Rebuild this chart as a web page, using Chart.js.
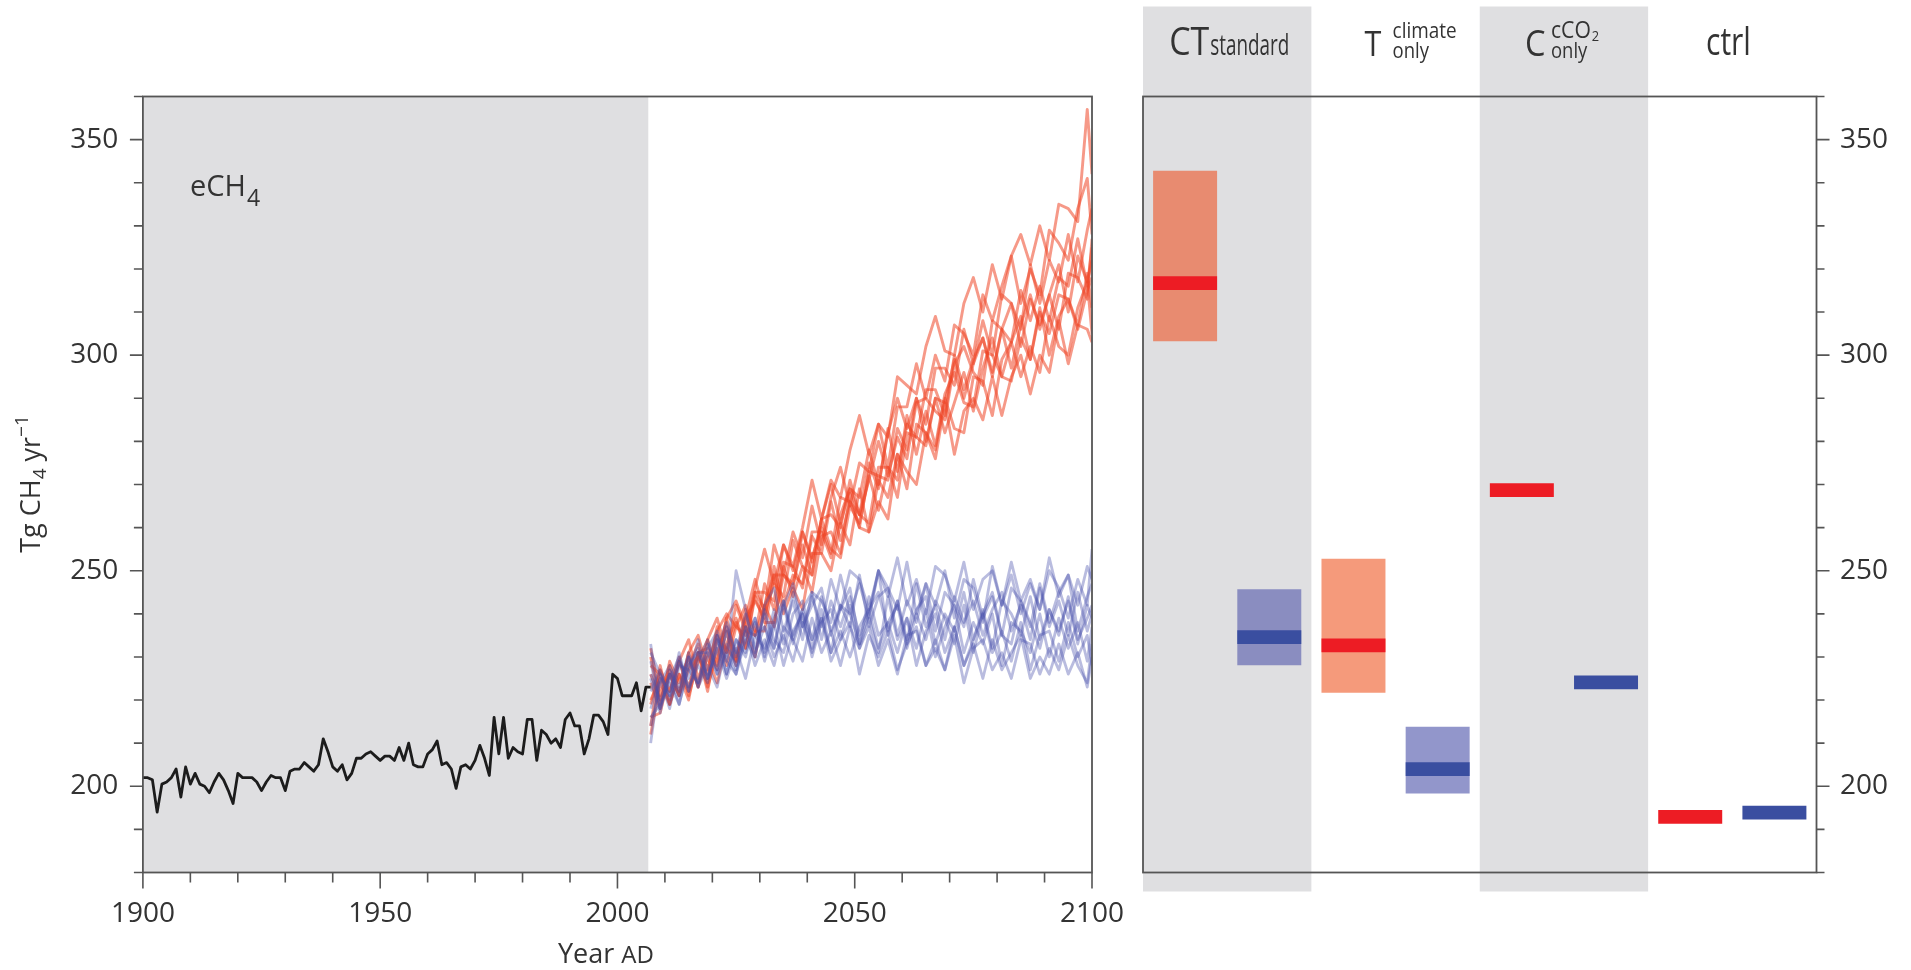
<!DOCTYPE html>
<html>
<head>
<meta charset="utf-8">
<script src="https://cdn.jsdelivr.net/npm/chart.js@4.4.1/dist/chart.umd.min.js"></script>
<style>
  html, body { margin: 0; padding: 0; background: #fff; }
  #wrap { position: relative; width: 1911px; height: 970px; overflow: hidden; }
  #left { position: absolute; left: 0; top: 0; }
  #right { position: absolute; left: 1120px; top: 0; }
</style>
</head>
<body>
<div id="wrap">
  <canvas id="left" width="1143" height="970"></canvas>
  <canvas id="right" width="791" height="970"></canvas>
</div>
<script>
// ---- data: historical eCH4 (Tg CH4 / yr) ----
const histYears = [1900,1901,1902,1903,1904,1905,1906,1907,1908,1909,1910,1911,1912,1913,1914,1915,1916,1917,1918,1919,
  1920,1921,1922,1923,1924,1925,1926,1927,1928,1929,1930,1931,1932,1933,1934,1935,1936,1937,1938,1939,
  1940,1941,1942,1943,1944,1945,1946,1947,1948,1949,1950,1951,1952,1953,1954,1955,1956,1957,1958,1959,
  1960,1961,1962,1963,1964,1965,1966,1967,1968,1969,1970,1971,1972,1973,1974,1975,1976,1977,1978,1979,
  1980,1981,1982,1983,1984,1985,1986,1987,1988,1989,1990,1991,1992,1993,1994,1995,1996,1997,1998,1999,
  2000,2001,2002,2003,2004,2005,2006,2007];
const histValues = [202,202,201.5,194,200.5,201,202,204,197.5,204.5,200.5,203,200.5,200,198.5,201,203,201.5,199,196,
  203,202,202,202,201,199,201,202.5,202,202,199,203.5,204,204,205.5,204.5,203.5,205,211,208,
  204.5,203.5,205,201.5,203,206.5,206.5,207.5,208,207,206,207,207,206,209,206,210,205,204.5,204.5,
  207.5,208.5,210.5,205,205.5,204,199.5,204.5,205,204,206,209.5,206.5,202.5,216,207.5,216,206.5,209,208,
  207.5,215.5,215.5,206,213,212,210,211,209,215.5,217,214,214,207.5,211,216.5,216.5,215,212,226,
  225,221,221,221,224,217.5,223,223];

// ---- data: projections 2007-2100 ----
const projYears = [2007,2009,2011,2013,2015,2017,2019,2021,2023,2025,2027,2029,2031,2033,2035,2037,2039,2041,2043,2045,
  2047,2049,2051,2053,2055,2057,2059,2061,2063,2065,2067,2069,2071,2073,2075,2077,2079,2081,2083,2085,
  2087,2089,2091,2093,2095,2097,2099,2100];

const redMembers = [
  [228,226,219,229,223,231,223,231,237,229,237,230,242,249,240,246,241,254,254,250,261,256,269,259,266,262,277,273,270,282,276,289,277,287,290,285,295,286,295,300,291,300,296,308,298,307,306,303],
  [216,217,226,221,231,223,230,224,233,239,232,244,238,238,249,247,256,249,262,255,253,265,261,272,264,274,267,282,281,279,290,282,289,296,287,297,304,295,294,304,299,311,300,309,313,306,315,318],
  [232,221,228,222,228,233,224,235,231,242,236,235,247,241,252,251,246,258,254,266,257,266,260,273,272,271,283,278,290,280,290,289,299,290,298,304,296,306,297,307,314,306,314,306,319,318,313,327],
  [212,224,219,226,220,231,232,229,239,230,239,248,240,247,244,257,251,249,262,263,260,271,263,271,280,272,281,276,289,290,287,285,298,302,296,293,308,306,303,315,308,316,308,318,316,327,316,325],
  [224,218,229,224,230,223,234,239,231,238,232,245,245,243,256,250,259,252,262,270,261,269,267,278,270,282,290,283,290,284,297,297,293,306,298,308,300,314,312,306,321,312,322,317,328,317,329,334],
  [219,227,222,229,234,225,231,228,239,243,237,245,241,256,249,259,253,265,256,267,274,265,275,273,284,274,288,288,298,290,300,294,307,305,300,314,308,316,323,312,320,314,329,326,322,334,341,328],
  [230,219,226,221,231,235,227,236,240,237,235,246,255,247,256,251,260,271,262,271,267,278,286,277,284,281,295,293,291,302,309,301,300,312,318,310,321,313,323,328,321,330,322,335,334,331,357,342],
  [214,228,219,226,222,231,222,234,232,229,241,235,242,237,251,244,251,245,258,259,254,268,260,259,271,267,277,269,284,282,278,290,283,282,295,294,286,299,303,295,302,296,309,302,300,311,317,305],
  [226,220,227,221,227,230,226,237,228,237,242,236,236,249,249,246,259,253,260,254,267,266,263,275,269,283,273,284,281,292,292,286,300,292,299,304,295,306,312,302,313,307,314,321,310,323,317,322],
  [220,225,222,230,221,229,234,227,236,228,239,243,239,251,242,249,247,259,259,253,263,269,263,261,274,274,271,286,277,287,279,291,296,289,288,301,300,295,303,309,299,310,305,314,313,307,319,311]
];

const blueMembers = [
  [233,218,226,222,230,223,228,223,233,228,236,228,234,228,237,234,229,239,231,236,228,237,232,237,228,234,226,235,236,228,232,227,237,228,233,225,234,227,231,235,225,230,226,233,226,231,223,230],
  [210,226,221,229,222,229,234,226,231,226,234,239,231,238,228,236,240,232,241,231,236,230,237,241,232,238,231,239,228,236,240,231,237,228,234,240,231,236,229,238,227,235,236,229,238,230,235,228],
  [226,220,226,219,228,231,225,235,226,234,231,238,229,237,242,233,240,230,238,241,234,242,232,239,231,244,234,239,232,241,230,237,242,231,238,233,240,228,238,236,231,240,230,239,232,238,229,237],
  [218,225,218,228,227,224,233,227,236,227,234,230,241,234,231,240,243,234,239,231,242,240,233,244,235,238,242,232,240,234,243,239,233,242,231,240,245,235,233,243,238,232,241,235,244,234,239,242],
  [229,218,225,230,223,228,224,234,229,250,241,231,237,232,243,235,241,245,234,243,237,244,235,241,245,236,243,233,247,237,242,234,244,238,243,235,241,245,236,242,234,246,237,243,235,245,236,240],
  [214,224,228,221,230,223,232,236,229,226,237,235,232,241,233,245,237,242,246,235,242,237,249,237,244,246,235,243,238,247,236,245,242,237,248,239,244,235,246,243,237,247,238,245,249,236,244,247],
  [222,227,220,229,225,234,225,232,238,230,237,230,242,246,236,243,234,245,243,238,249,240,247,239,250,246,241,252,240,247,242,250,239,248,246,238,251,242,249,240,247,241,250,246,239,248,242,255],
  [231,226,221,231,222,231,231,226,237,231,240,232,240,232,242,247,237,244,237,248,241,250,248,241,250,244,253,242,248,240,251,249,243,252,241,248,250,242,252,243,248,241,253,244,249,242,251,248],
  [216,219,224,219,228,232,225,232,225,232,225,235,237,230,235,229,238,231,239,229,234,238,226,235,230,236,227,233,237,228,234,227,235,224,232,234,227,231,225,234,233,226,232,227,235,228,224,233],
  [225,217,227,223,231,224,230,235,226,234,230,239,230,239,243,234,241,234,244,236,241,246,233,240,250,235,243,234,241,244,233,240,236,245,234,241,232,243,240,235,244,234,241,236,243,233,242,239]
];

// ---- data: experiment summary (right panel), two slots per experiment ----
const experiments = ['CTstandard', 'Tclimate_only', 'CcCO2_only', 'ctrl'];
const slotLabels = ['CT red', 'CT blue', 'T red', 'T blue', 'C red', 'C blue', 'ctrl red', 'ctrl blue'];
const rangeLow  = [303.2, 228.1, 221.7, 198.3, null, null, null, null];
const rangeHigh = [342.8, 245.7, 252.8, 213.8, null, null, null, null];
const medians   = [316.7, 234.6, 232.7, 204.0, 268.7, 224.1, 192.9, 193.9];

// ---- axes ----
const yMin = 180, yMax = 360;
const yMajor = [200, 250, 300, 350];
const xMin = 1900, xMax = 2100;
const xMajor = [1900, 1950, 2000, 2050, 2100];
const shadeFrom = 1900, shadeTo = 2006.5;

// ---- styles ----
const FONT = "'Open Sans', 'DejaVu Sans', sans-serif";
const GREY = '#dfdfe1';
const AXIS = '#555555';
const TEXT = '#333333';
const rangeColors  = ['#e88b70', '#8a8dc0', '#f59a7b', '#9296cb', null, null, null, null];
const medianColors = ['#ed1c24', '#3a4ea0', '#ed1c24', '#3a4ea0', '#ed1c24', '#3a4ea0', '#ed1c24', '#3a4ea0'];
const MEDIAN_HALF = 1.6;

function txt(ctx, s, x, y, size, sx) {
  ctx.save();
  ctx.font = size + 'px ' + FONT;
  ctx.translate(x, y);
  ctx.scale(sx || 1, 1);
  ctx.fillText(s, 0, 0);
  const w = ctx.measureText(s).width * (sx || 1);
  ctx.restore();
  return w;
}

// tick marks drawn outward from an axis; long ones on the labelled values
function drawTicks(ctx, scale, from, to, step, majors, side, majorLen, minorLen) {
  ctx.save();
  ctx.strokeStyle = AXIS;
  ctx.lineWidth = 1.6;
  ctx.beginPath();
  for (let v = from; v <= to + 1e-6; v += step) {
    const len = majors.includes(v) ? majorLen : minorLen;
    const p = scale.getPixelForValue(v);
    if (side === 'bottom') { ctx.moveTo(p, scale.top); ctx.lineTo(p, scale.top + len); }
    if (side === 'left')   { ctx.moveTo(scale.right, p); ctx.lineTo(scale.right - len, p); }
    if (side === 'right')  { ctx.moveTo(scale.left, p); ctx.lineTo(scale.left + len, p); }
  }
  ctx.stroke();
  ctx.restore();
}

function frame(ctx, a) {
  ctx.save();
  ctx.strokeStyle = AXIS;
  ctx.lineWidth = 1.8;
  ctx.strokeRect(a.left, a.top, a.right - a.left, a.bottom - a.top);
  ctx.restore();
}

const leftDecor = {
  id: 'leftDecor',
  beforeDatasetsDraw(chart) {
    const {ctx, chartArea: a, scales: {x}} = chart;
    const x0 = x.getPixelForValue(shadeFrom), x1 = x.getPixelForValue(shadeTo);
    ctx.save();
    ctx.fillStyle = GREY;
    ctx.fillRect(x0, a.top, x1 - x0, a.bottom - a.top);
    ctx.restore();
  },
  afterDatasetsDraw(chart) {
    const {ctx, chartArea: a, scales: {x, y}} = chart;
    frame(ctx, a);
    drawTicks(ctx, x, 1900, 2100, 10, xMajor, 'bottom', 16, 10);
    drawTicks(ctx, y, 180, 360, 10, yMajor, 'left', 13, 9);

    ctx.save();
    ctx.fillStyle = TEXT;
    ctx.textBaseline = 'alphabetic';
    // panel label
    let w = txt(ctx, 'eCH', 190, 196, 29);
    txt(ctx, '4', 190 + w + 1, 206, 23);
    // x title
    w = txt(ctx, 'Year ', 558, 963, 27);
    txt(ctx, 'AD', 558 + w, 963, 24);
    // rotated y title
    ctx.translate(40, 484);
    ctx.rotate(-Math.PI / 2);
    const parts = [['Tg CH', 27, 0], ['4', 19, 6], [' yr', 27, 0], ['\u22121', 19, -12]];
    let total = 0;
    parts.forEach(p => { ctx.font = p[1] + 'px ' + FONT; total += ctx.measureText(p[0]).width; });
    let cx = -total / 2;
    parts.forEach(p => { cx += txt(ctx, p[0], cx, p[2], p[1]); });
    ctx.restore();
  }
};

const rightDecor = {
  id: 'rightDecor',
  beforeDatasetsDraw(chart) {
    const {ctx, chartArea: a, scales: {x}} = chart;
    const slot = x.getPixelForValue(1) - x.getPixelForValue(0);
    ctx.save();
    ctx.fillStyle = GREY;
    [0, 2].forEach(g => {
      const left = x.getPixelForValue(g * 2) - slot / 2;
      ctx.fillRect(left, a.top - 90, slot * 2, a.bottom - a.top + 109);
    });
    // column headers
    ctx.fillStyle = TEXT;
    const c = experiments.map((e, g) => (x.getPixelForValue(g * 2) + x.getPixelForValue(g * 2 + 1)) / 2);
    let w = txt(ctx, 'CT', c[0] - 58, 55, 39, 0.87);
    txt(ctx, 'standard', c[0] - 58 + w + 1, 55, 29, 0.65);
    txt(ctx, 'T', c[1] - 31, 56, 34, 0.9);
    txt(ctx, 'climate', c[1] - 3, 38, 22, 0.86);
    txt(ctx, 'only', c[1] - 3, 58, 22, 0.84);
    txt(ctx, 'C', c[2] - 39, 56, 37, 0.88);
    w = txt(ctx, 'cCO', c[2] - 13, 38, 23, 0.92);
    txt(ctx, '2', c[2] - 13 + w + 1, 41, 14, 0.92);
    txt(ctx, 'only', c[2] - 13, 58, 22, 0.84);
    txt(ctx, 'ctrl', c[3] - 26.3, 55, 38, 0.79);
    ctx.restore();
  },
  afterDatasetsDraw(chart) {
    const {ctx, chartArea: a, scales: {y}} = chart;
    frame(ctx, a);
    drawTicks(ctx, y, 180, 360, 10, yMajor, 'right', 13, 8);
  }
};

// ---- left chart ----
const lineSets = [];
lineSets.push({
  data: histYears.map((yr, i) => ({x: yr, y: histValues[i]})),
  borderColor: '#1c1c1c', borderWidth: 2.8, order: 0
});
blueMembers.forEach(m => lineSets.push({
  data: projYears.map((yr, i) => ({x: yr, y: m[i]})),
  borderColor: 'rgba(72, 80, 172, 0.38)', borderWidth: 2.8, order: 1
}));
redMembers.forEach(m => lineSets.push({
  data: projYears.map((yr, i) => ({x: yr, y: m[i]})),
  borderColor: 'rgba(238, 70, 38, 0.55)', borderWidth: 2.9, order: 2
}));

new Chart(document.getElementById('left'), {
  type: 'line',
  data: { datasets: lineSets },
  options: {
    responsive: false,
    animation: false,
    events: [],
    elements: { point: { radius: 0 }, line: { tension: 0, borderJoinStyle: 'round', fill: false } },
    layout: { padding: { left: 0, top: 96.5, right: 51, bottom: 0 } },
    plugins: { legend: { display: false }, tooltip: { enabled: false } },
    scales: {
      x: {
        type: 'linear', min: xMin, max: xMax,
        grid: { display: false, drawTicks: false },
        border: { display: false },
        afterBuildTicks: s => { s.ticks = xMajor.map(v => ({value: v})); },
        afterFit: s => { s.height = 97.5; s.paddingLeft = 0; s.paddingRight = 0; },
        ticks: { padding: 25, maxRotation: 0, autoSkip: false, color: TEXT,
                 font: { family: FONT, size: 28 }, callback: v => String(v) }
      },
      y: {
        type: 'linear', min: yMin, max: yMax,
        grid: { display: false, drawTicks: false },
        border: { display: false },
        afterBuildTicks: s => { s.ticks = yMajor.map(v => ({value: v})); },
        afterFit: s => { s.width = 142.9; s.paddingTop = 0; s.paddingBottom = 0; },
        ticks: { padding: 24.6, color: TEXT, font: { family: FONT, size: 28 } }
      }
    }
  },
  plugins: [leftDecor]
});

// ---- right chart ----
new Chart(document.getElementById('right'), {
  type: 'bar',
  data: {
    labels: slotLabels,
    datasets: [
      { label: 'median', data: medians.map(m => [m - MEDIAN_HALF, m + MEDIAN_HALF]),
        backgroundColor: medianColors, order: 0 },
      { label: 'range', data: rangeLow.map((lo, i) => lo == null ? null : [lo, rangeHigh[i]]),
        backgroundColor: rangeColors, order: 1 }
    ]
  },
  options: {
    responsive: false,
    animation: false,
    events: [],
    datasets: { bar: { grouped: false, barPercentage: 0.76, categoryPercentage: 1, borderWidth: 0 } },
    layout: { padding: { left: 23, top: 96.5, right: 0, bottom: 97.5 } },
    plugins: { legend: { display: false }, tooltip: { enabled: false } },
    scales: {
      x: { type: 'category', display: false, offset: true },
      y: {
        type: 'linear', position: 'right', min: yMin, max: yMax,
        grid: { display: false, drawTicks: false },
        border: { display: false },
        afterBuildTicks: s => { s.ticks = yMajor.map(v => ({value: v})); },
        afterFit: s => { s.width = 94.5; s.paddingTop = 0; s.paddingBottom = 0; },
        ticks: { padding: 23.5, color: TEXT, font: { family: FONT, size: 28 } }
      }
    }
  },
  plugins: [rightDecor]
});
</script>
</body>
</html>
